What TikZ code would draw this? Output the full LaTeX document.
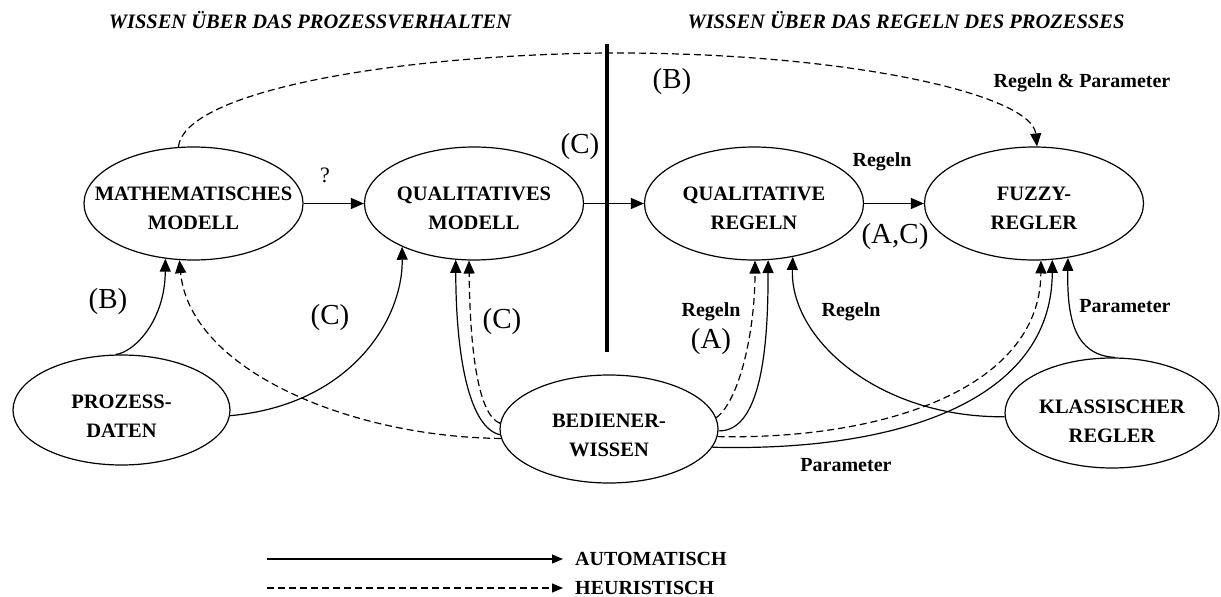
\documentclass[tikz,border=0pt]{standalone}
\usepackage{fontspec}
\setmainfont{Liberation Serif}
\usetikzlibrary{arrows.meta,shapes.geometric}
\begin{document}
\begin{tikzpicture}[x=1pt,y=-1pt,
  ell/.style={draw,ellipse,minimum width=219pt,minimum height=113pt,inner sep=0pt,line width=1.2pt},
  etext/.style={align=center,font=\bfseries\fontsize{20.5}{29}\selectfont,inner sep=0pt,yshift=-5pt},
  lbl/.style={font=\bfseries\fontsize{20}{24}\selectfont,inner sep=0pt},
  paren/.style={font=\fontsize{29}{32}\selectfont,inner sep=0pt},
  ttl/.style={font=\bfseries\itshape\fontsize{20.5}{24}\selectfont,inner sep=0pt},
  con/.style={line width=1.2pt,-{Triangle[length=13pt,width=11pt]}},
  dcon/.style={con,dash pattern=on 7pt off 4pt},
  lcon/.style={line width=1.2pt,-{Triangle[length=11pt,width=9pt]}},
]
\useasboundingbox (0,0) rectangle (1221,597);

% titles
\node[ttl] (t1) at (310,20) {WISSEN ÜBER DAS PROZESSVERHALTEN};
\node[ttl] (t2) at (906,20) {WISSEN ÜBER DAS REGELN DES PROZESSES};

% ellipses
\node[ell] (math) at (193.5,203.5) {};
\node[ell] (qm) at (474,203.5) {};
\node[ell] (qr) at (754,203.5) {};
\node[ell] (fz) at (1034,203.5) {};
\node[ell,minimum width=217pt,minimum height=110pt] (pd) at (121.5,410) {};
\node[ell,minimum width=218pt,minimum height=108pt] (bw) at (609,429) {};
\node[ell,minimum width=214pt,minimum height=110pt] (kr) at (1112,413) {};

\node[etext] (mathT) at (math) {MATHEMATISCHES\\MODELL};
\node[etext] (qmT) at (qm) {QUALITATIVES\\MODELL};
\node[etext] (qrT) at (qr) {QUALITATIVE\\REGELN};
\node[etext] (fzT) at (fz) {FUZZY-\\REGLER};
\node[etext,yshift=-1pt] (pdT) at (pd) {PROZESS-\\DATEN};
\node[etext,yshift=-1pt] (bwT) at (bw) {BEDIENER-\\WISSEN};
\node[etext,yshift=-3pt] (krT) at (kr) {KLASSISCHER\\REGLER};

% divider
\draw[line width=4.5pt] (607,44) -- (607,352);

% top row
\draw[con] (math.east) -- (qm.west);
\draw[con] (qm.east) -- (qr.west);
\draw[con] (qr.east) -- (fz.west);

% big dashed arc
\coordinate (peak) at (607,53);
\draw[dcon] (math.105.5) .. controls (185,90) and (400,55) .. (peak)
  .. controls (850,52) and (1032,95) .. (fz.87);

% left side
\draw[con] (pd.96.7) .. controls (135,352) and (165,320) .. (math.-117.6);
\draw[con] (pd.-3) .. controls (350,405) and (403,320) .. (qm.211.1);
\draw[dcon] (bw.185) .. controls (350,437) and (190,370) .. (math.-104.5);
\draw[con] (bw.183) .. controls (470,428) and (456,360) .. (qm.252.1);
\draw[dcon] (bw.177) .. controls (478,415) and (470,350) .. (qm.265.9);

% right side
\draw[dcon] (bw.6) .. controls (740,400) and (755,330) .. (qr.-89);
\draw[con] (bw.-1) .. controls (765,432) and (768,330) .. (qr.-76);
\draw[dcon] (bw.-4) .. controls (880,440) and (1040,390) .. (fz.-83.9);
\draw[con] (bw.-10) .. controls (900,452) and (1052,400) .. (fz.-72.1);
\draw[con] (kr.182) .. controls (880,418) and (790,340) .. (qr.-54.3);
\draw[con] (kr.87) .. controls (1075,355) and (1067,320) .. (fz.-58.5);

% labels
\node[font=\fontsize{22}{24}\selectfont,inner sep=0pt] (q) at (325,175) {?};
\node[paren] (c1) at (580,147) {(C)};
\node[paren] (b1) at (672,82) {(B)};
\node[lbl] (rp) at (1082,83) {Regeln \& Parameter};
\node[lbl] (r1) at (882,162) {Regeln};
\node[paren] (ac) at (895,237) {(A,C)};
\node[paren] (b2) at (108,302) {(B)};
\node[paren] (c2) at (330,318) {(C)};
\node[paren] (c3) at (502,322) {(C)};
\node[lbl] (r2) at (711,312) {Regeln};
\node[paren] (a1) at (711,342) {(A)};
\node[lbl] (r3) at (851,312) {Regeln};
\node[lbl] (p1) at (1125,306) {Parameter};
\node[lbl] (p2) at (846,465) {Parameter};

% legend
\coordinate (la) at (267,559);
\coordinate (lb) at (267,588);
\node[lbl,anchor=west] (auto) at (575,559) {AUTOMATISCH};
\node[lbl,anchor=west] (heur) at (575,588) {HEURISTISCH};
\draw[lcon,shorten >=12pt] (la) -- (auto.west);
\draw[lcon,dash pattern=on 7pt off 4pt,shorten >=12pt] (lb) -- (heur.west);
\end{tikzpicture}
\end{document}
